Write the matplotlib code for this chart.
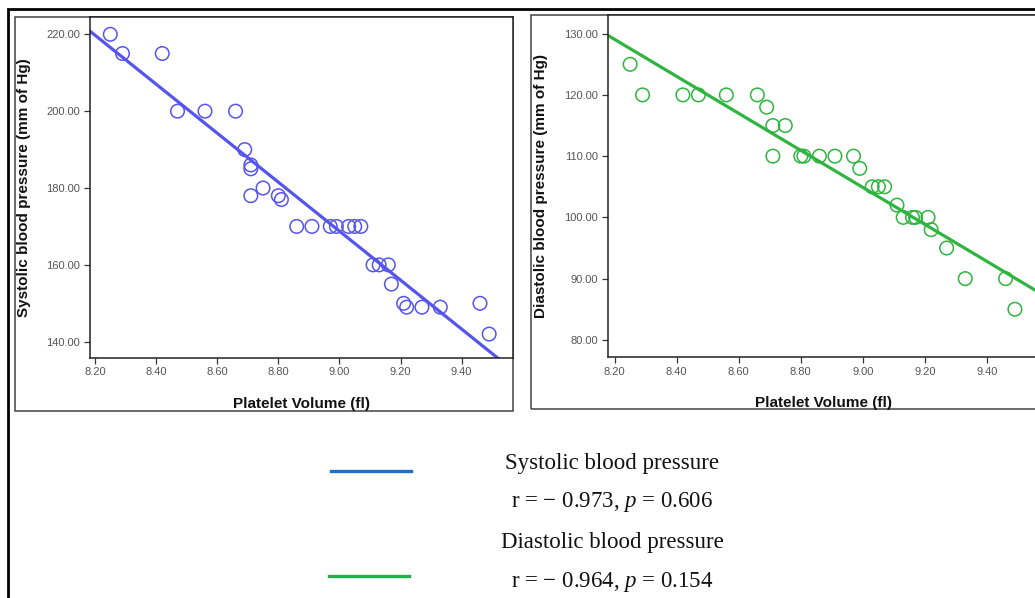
import numpy as np
import matplotlib
matplotlib.use("Agg")
import matplotlib.pyplot as plt
from matplotlib.patches import Rectangle
from matplotlib.lines import Line2D
from matplotlib.ticker import FormatStrFormatter, FixedLocator

# ---------------- data ----------------
sys_x = [8.25, 8.29, 8.42, 8.47, 8.56, 8.66, 8.69, 8.71, 8.71, 8.71, 8.75, 8.80, 8.81,
         8.86, 8.91, 8.97, 8.99, 9.03, 9.05, 9.07, 9.11, 9.13, 9.16, 9.17, 9.21, 9.22,
         9.27, 9.33, 9.46, 9.49]
sys_y = [220, 215, 215, 200, 200, 200, 190, 186, 185, 178, 180, 178, 177,
         170, 170, 170, 170, 170, 170, 170, 160, 160, 160, 155, 150, 149,
         149, 149, 150, 142]

dia_x = [8.25, 8.29, 8.42, 8.47, 8.56, 8.66, 8.69, 8.71, 8.75, 8.71, 8.80, 8.81, 8.86,
         8.91, 8.97, 8.99, 9.03, 9.05, 9.07, 9.11, 9.13, 9.16, 9.17, 9.21, 9.22, 9.27,
         9.33, 9.46, 9.49]
dia_y = [125, 120, 120, 120, 120, 120, 118, 115, 115, 110, 110, 110, 110,
         110, 110, 108, 105, 105, 105, 102, 100, 100, 100, 100, 98, 95,
         90, 90, 85]

x_ticks = [8.20, 8.40, 8.60, 8.80, 9.00, 9.20, 9.40]
sys_ticks = [140, 160, 180, 200, 220]
dia_ticks = [80, 90, 100, 110, 120, 130]

legend_titles = ["Systolic blood pressure", "Diastolic blood pressure"]
legend_stats = ["r = \u2212 0.973, $p$ = 0.606", "r = \u2212 0.964, $p$ = 0.154"]

x_label = "Platelet Volume (fl)"
sys_label = "Systolic blood pressure (mm of Hg)"
dia_label = "Diastolic blood pressure (mm of Hg)"

SYS_COLOR = "#5555ee"
DIA_COLOR = "#2fb53f"
LEG_BLUE = "#1f70c8"
LEG_GREEN = "#1db14b"

plt.rcParams["font.family"] = ["Liberation Sans", "DejaVu Sans"]
plt.rcParams["mathtext.fontset"] = "custom"
plt.rcParams["mathtext.it"] = "Liberation Serif:italic"
plt.rcParams["mathtext.rm"] = "Liberation Serif"

W, H = 1035, 598
fig = plt.figure(figsize=(W / 100, H / 100), dpi=100)


def fx(px):
    return px / W


def fy(py):
    return 1 - py / H


# outer frame
fig.add_artist(Rectangle((fx(8), fy(700)), fx(1100), fy(9) - fy(700),
                         transform=fig.transFigure, fill=False,
                         edgecolor="black", linewidth=2.0, zorder=0))
# panel frames
fig.add_artist(Rectangle((fx(15), fy(410.5)), fx(513 - 15), fy(17) - fy(410.5),
                         transform=fig.transFigure, fill=False,
                         edgecolor="#444444", linewidth=1.1, zorder=0))
fig.add_artist(Rectangle((fx(531), fy(409)), fx(700), fy(15) - fy(409),
                         transform=fig.transFigure, fill=False,
                         edgecolor="#444444", linewidth=1.1, zorder=0))


def make_axes(px_left, px_right, px_top, px_bottom):
    return fig.add_axes([fx(px_left), fy(px_bottom), fx(px_right - px_left),
                         fy(px_top) - fy(px_bottom)])


def style(ax, xs, ys, color, yticks, xlim, ylim, ylabel, xlabel_x):
    ax.scatter(xs, ys, s=95, facecolors="none", edgecolors=color, linewidths=1.1,
               zorder=3, clip_on=False)
    slope, intercept = np.polyfit(xs, ys, 1)
    lx = np.array(xlim)
    ax.plot(lx, slope * lx + intercept, color=color, linewidth=2.3, zorder=2)
    ax.set_xlim(*xlim)
    ax.set_ylim(*ylim)
    ax.xaxis.set_major_locator(FixedLocator(x_ticks))
    ax.yaxis.set_major_locator(FixedLocator(yticks))
    ax.xaxis.set_major_formatter(FormatStrFormatter("%.2f"))
    ax.yaxis.set_major_formatter(FormatStrFormatter("%.2f"))
    ax.tick_params(direction="out", length=4, width=0.9, color="#333333",
                   labelcolor="#555555", labelsize=8, pad=3)
    for sp in ax.spines.values():
        sp.set_color("#222222")
        sp.set_linewidth(1.1)
    ax.set_xlabel(x_label, fontsize=11, fontweight="bold", color="#111111")
    ax.set_ylabel(ylabel, fontsize=11, fontweight="bold", color="#111111")
    ax.xaxis.set_label_coords(xlabel_x, -0.115)
    ax.set_facecolor("white")


ax1 = make_axes(90, 513, 17, 357.5)
style(ax1, sys_x, sys_y, SYS_COLOR, sys_ticks, (8.1836, 9.568), (135.9, 224.5),
      sys_label, 0.5)
ax1.yaxis.set_label_coords(-0.139, 0.5)

ax2 = make_axes(608, 1045, 15, 357)
style(ax2, dia_x, dia_y, DIA_COLOR, dia_ticks, (8.1787, 9.587), (77.2, 133.05),
      dia_label, 0.494)
ax2.yaxis.set_label_coords(-0.137, 0.5)

# legend
fig.add_artist(Line2D([fx(331), fx(411)], [fy(471), fy(471)], color=LEG_BLUE,
                      linewidth=2.4, transform=fig.transFigure))
fig.add_artist(Line2D([fx(329), fx(409)], [fy(575.7), fy(575.7)], color=LEG_GREEN,
                      linewidth=2.4, transform=fig.transFigure))

serif = ["Liberation Serif", "DejaVu Serif"]
fig.text(fx(612), fy(463), legend_titles[0], ha="center", va="center",
         fontsize=16.5, family=serif, color="#111111")
fig.text(fx(612), fy(502), legend_stats[0], ha="center", va="center",
         fontsize=16.5, family=serif, color="#111111")
fig.text(fx(612), fy(542.5), legend_titles[1], ha="center", va="center",
         fontsize=16.5, family=serif, color="#111111")
fig.text(fx(612), fy(581.5), legend_stats[1], ha="center", va="center",
         fontsize=16.5, family=serif, color="#111111")

fig.savefig("out.png", dpi=100, facecolor="white")
